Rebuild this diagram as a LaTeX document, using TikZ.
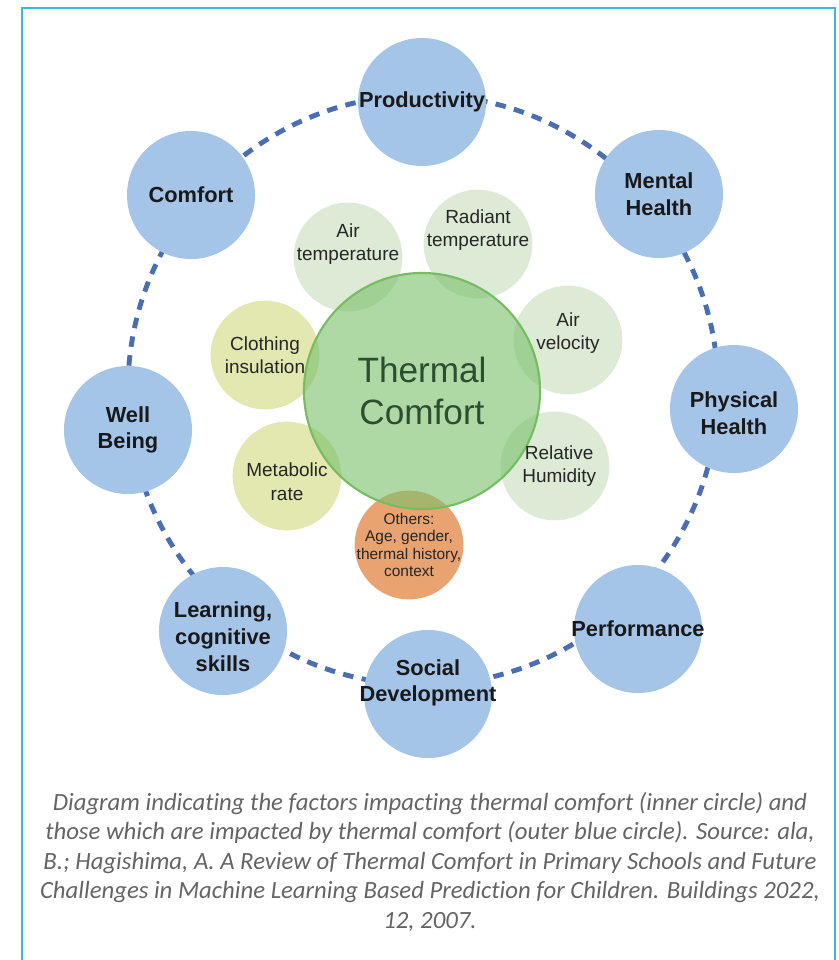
\documentclass[tikz,border=0pt]{standalone}
\usepackage{fontspec}
\setmainfont{Liberation Sans}
\newfontfamily\capfont[Ligatures=NoCommon]{Carlito}
\usetikzlibrary{positioning}

\definecolor{outerblue}{RGB}{164,196,232}
\definecolor{ringblue}{RGB}{74,110,178}
\definecolor{factorgreen}{RGB}{221,234,213}
\definecolor{factorlime}{RGB}{226,232,176}
\definecolor{factororange}{RGB}{233,163,112}
\definecolor{coregreen}{RGB}{124,193,109}
\definecolor{coreedge}{RGB}{118,188,96}
\definecolor{coretext}{RGB}{44,78,48}
\definecolor{framecyan}{RGB}{58,184,216}
\definecolor{capgray}{RGB}{100,100,100}

\tikzset{
  outer/.style={circle, fill=outerblue, minimum size=3.2cm, inner sep=0pt},
  outertext/.style={font=\fontsize{15.5}{19}\selectfont\bfseries, text=black!90, align=center},
  factor/.style={circle, minimum size=2.72cm, inner sep=0pt},
  factortext/.style={font=\fontsize{13.5}{16.5}\selectfont, text=black!85, align=center},
  ring/.style={draw=ringblue, line width=3.5pt, dash pattern=on 7.5pt off 6pt},
  caption/.style={font=\capfont\itshape\fontsize{17.6}{21}\selectfont, text=capgray, align=center},
}

\begin{document}
\begin{tikzpicture}[x=0.025cm, y=-0.025cm]
    \useasboundingbox (0,0) rectangle (839,960);
    \draw[framecyan, line width=1.5pt] (22,960) -- (22,8) -- (835,8) -- (835,960);

    % dashed ring behind the outer circles
    \coordinate (hub) at (423,390);
    \draw[ring] (hub) circle[radius=7.375cm];

    % outer circles
    \node[outer] (prod) at (422,102) {};
    \node[outer] (mental) at (659,194) {};
    \node[outer] (physical) at (734,409) {};
    \node[outer] (perf) at (638,629) {};
    \node[outer] (social) at (428,694) {};
    \node[outer] (learning) at (223,631) {};
    \node[outer] (wellbeing) at (128,430) {};
    \node[outer] (comfort) at (191,195) {};

    \node[outertext] (prod-t) at (prod) {Productivity};
    \node[outertext] (mental-t) at (mental) {Mental\\Health};
    \node[outertext, yshift=-3pt] (physical-t) at (physical) {Physical\\Health};
    \node[outertext] (perf-t) at (perf) {Performance};
    \node[outertext, yshift=8pt] (social-t) at (social) {Social\\Development};
    \node[outertext, yshift=-4pt] (learning-t) at (learning) {Learning,\\cognitive\\skills};
    \node[outertext] (wellbeing-t) at (wellbeing) {Well\\Being};
    \node[outertext] (comfort-t) at (comfort) {Comfort};

    % factors around the core
    \node[factor, fill=factorgreen] (airtemp) at (348,257) {};
    \node[factor, fill=factorgreen] (radiant) at (478,244) {};
    \node[factor, fill=factorgreen] (velocity) at (568,340) {};
    \node[factor, fill=factorgreen] (humidity) at (555,466) {};
    \node[factor, fill=factororange] (others) at (409,545) {};
    \node[factor, fill=factorlime] (metabolic) at (287,476) {};
    \node[factor, fill=factorlime] (clothing) at (265,355) {};

    % core circle, see-through
    \node[circle, minimum size=5.9cm, inner sep=0pt, fill=coregreen, fill opacity=0.62,
          draw=coreedge, line width=1.5pt] (core) at (422,391) {};

    \node[factortext, yshift=9pt] (airtemp-t) at (airtemp) {Air\\temperature};
    \node[factortext, yshift=10pt] (radiant-t) at (radiant) {Radiant\\temperature};
    \node[factortext, yshift=5pt] (velocity-t) at (velocity) {Air\\velocity};
    \node[factortext, xshift=3pt] (humidity-t) at (humidity) {Relative\\Humidity};
    \node[factortext, font=\fontsize{11}{12.5}\selectfont] (others-t) at (others) {Others:\\Age, gender,\\thermal history,\\context};
    \node[factortext, yshift=-4pt] (metabolic-t) at (metabolic) {Metabolic\\rate};
    \node[factortext] (clothing-t) at (clothing) {Clothing\\insulation};

    \node[font=\fontsize{25}{30}\selectfont, text=coretext, align=center] (core-t) at (core) {Thermal\\Comfort};

    \node[caption] (note) at (430,862) {Diagram indicating the factors impacting thermal comfort (inner circle) and\\
      those which are impacted by thermal comfort (outer blue circle). Source: ala,\\
      B.; Hagishima, A. A Review of Thermal Comfort in Primary Schools and Future\\
      Challenges in Machine Learning Based Prediction for Children. Buildings 2022,\\
      12, 2007.};
\end{tikzpicture}
\end{document}
